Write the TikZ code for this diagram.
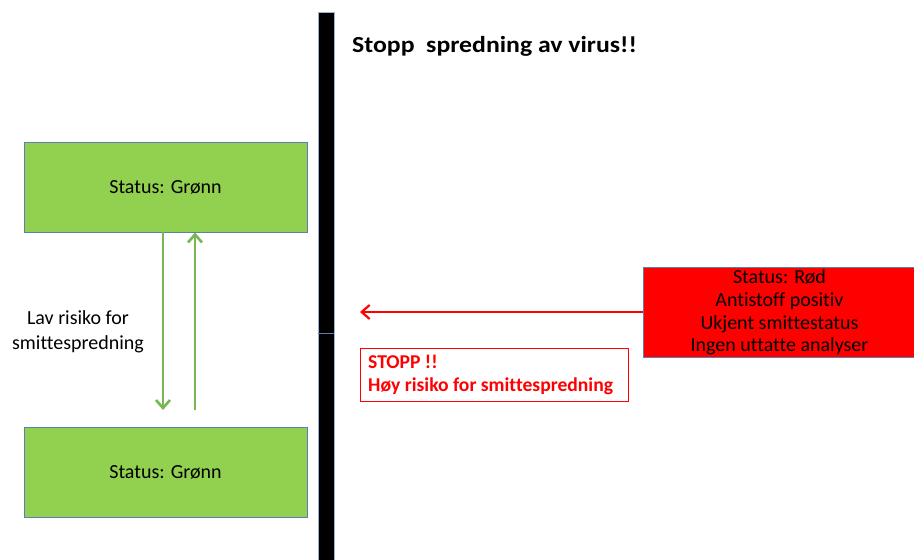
\documentclass[tikz,border=0pt]{standalone}
\usepackage{fontspec}
\setmainfont[Ligatures=NoCommon]{Carlito}
\newfontfamily\titlefont[FakeStretch=1.12,Ligatures=NoCommon]{Carlito}
\usetikzlibrary{arrows.meta}
\definecolor{grn}{HTML}{92D050}
\definecolor{edge}{HTML}{5B7FAF}
\definecolor{arrg}{HTML}{77B652}
\definecolor{rd}{HTML}{FF0000}
\tikzset{
  greenbox/.style={draw=edge, line width=1pt, fill=grn, minimum width=283pt, minimum height=90pt, inner sep=0pt, font=\fontsize{20}{22}\selectfont},
  greenarrow/.style={draw=arrg, line width=2.6pt, -{Straight Barb[length=8pt,width=14pt,line width=2.6pt]}},
  redarrow/.style={draw=rd, line width=2.2pt, -{Straight Barb[length=8pt,width=14pt,line width=2.2pt]}},
}
\begin{document}
\begin{tikzpicture}[x=1pt,y=-1pt]
\useasboundingbox[fill=white] (0,0) rectangle (914,560);
% vertical bar
\draw[draw=edge!60, fill=black, line width=0.8pt] (318,12) rectangle (334,566);
\draw[draw=edge, line width=0.8pt] (318,333) -- (334,333);
% title
\node[anchor=base west, font=\titlefont\bfseries\fontsize{23}{26}\selectfont, inner sep=0pt] (title) at (352,52) {Stopp\ \ spredning av virus!!};
% green boxes
\node[greenbox] (g1) at (165.5,187) {Status: Grønn};
\node[greenbox] (g2) at (165.5,472) {Status: Grønn};
\coordinate (d1) at (163,232);
\coordinate (d2) at (163,410);
\coordinate (u1) at (195,410);
\coordinate (u2) at (195,232.5);
\draw[greenarrow] (d1) -- (d2);
\draw[greenarrow] (u1) -- (u2);
\node[align=center, font=\fontsize{20}{25}\selectfont, inner sep=0pt] (lav) at (78,332) {Lav risiko for\\smittespredning};
% red box
\node[draw=edge, line width=1pt, fill=rd, minimum width=272pt, minimum height=90pt, inner sep=0pt, align=center, font=\fontsize{20}{22.7}\selectfont, anchor=north west] (red) at (643,267) {Status: Rød\\Antistoff positiv\\Ukjent smittestatus\\Ingen uttatte analyser};
\coordinate (rt) at (360,312);
\draw[redarrow] (red.west |- rt) -- (rt);
% stop box
\node[draw=rd, line width=1pt, fill=white, minimum width=268pt, minimum height=53pt, anchor=north west, inner sep=0pt] (stop) at (360,348) {};
\node[anchor=base west, align=left, text=rd, font=\bfseries\fontsize{19.6}{23}\selectfont, inner sep=0pt] (stoptxt) at (368,391.5) {STOPP !!\\Høy risiko for smittespredning};
\end{tikzpicture}
\end{document}
